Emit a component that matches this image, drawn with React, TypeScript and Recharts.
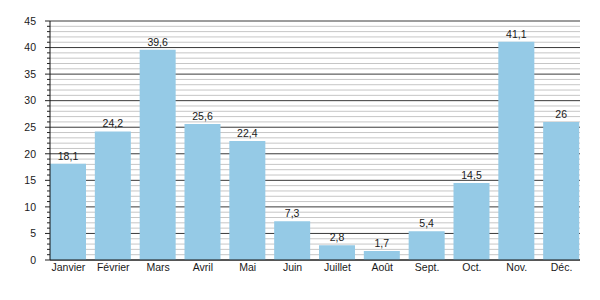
import React from 'react';
import { BarChart, Bar, XAxis, YAxis, CartesianGrid, LabelList } from 'recharts';

const months = ['Janvier', 'Février', 'Mars', 'Avril', 'Mai', 'Juin', 'Juillet', 'Août', 'Sept.', 'Oct.', 'Nov.', 'Déc.'];
const values = [18.1, 24.2, 39.6, 25.6, 22.4, 7.3, 2.8, 1.7, 5.4, 14.5, 41.1, 26];
const yTicks = [
  0, 1, 2, 3, 4, 5, 6, 7, 8, 9, 10, 11, 12, 13, 14, 15, 16, 17, 18, 19, 20, 21, 22,
  23, 24, 25, 26, 27, 28, 29, 30, 31, 32, 33, 34, 35, 36, 37, 38, 39, 40, 41, 42, 43, 44, 45,
];
const yMax = 45;

const data = months.map((m, i) => ({ month: m, value: values[i] }));

const FONT = '"Liberation Sans", Arial, sans-serif';
const TEXT = '#1a1a1a';

const YTick = (props: any) => {
  const { x, y, payload } = props;
  const major = payload.value % 5 === 0;
  return (
    <g>
      <line x1={x - (major ? 5 : 3)} x2={x} y1={y} y2={y} stroke="#222" strokeWidth={1} />
      {major && (
        <text x={x - 14} y={y} dy="0.355em" textAnchor="end" fontSize={10.5} fontFamily={FONT} fill={TEXT}>
          {payload.value}
        </text>
      )}
    </g>
  );
};

const gridLine = (p: any) => (
  <line
    key={`gl-${p.index}`}
    x1={p.x1}
    x2={p.x2}
    y1={p.y1}
    y2={p.y2}
    stroke={p.index % 5 === 0 ? '#3a3a3a' : '#c6c6c6'}
    strokeWidth={1}
  />
);

export default function App() {
  return (
    <div style={{ position: 'absolute', left: 0, top: 0, width: 600, height: 300, background: '#fff' }}>
      <BarChart width={600} height={300} data={data} margin={{ top: 21, right: 20, left: 0, bottom: 0 }}>
        <CartesianGrid vertical={false} horizontal={gridLine} />
        <XAxis
          dataKey="month"
          height={40}
          padding={{ left: -4, right: -4 }}
          tickLine={false}
          tickSize={0}
          tickMargin={4}
          interval={0}
          axisLine={{ stroke: '#111' }}
          tick={{ fontSize: 10.5, fontFamily: FONT, fill: TEXT }}
        />
        <YAxis
          width={50}
          domain={[0, yMax]}
          ticks={yTicks}
          interval={0}
          tickLine={false}
          tickSize={0}
          tickMargin={0}
          axisLine={{ stroke: '#111' }}
          tick={<YTick />}
        />
        <Bar dataKey="value" fill="#95cae6" barSize={36} isAnimationActive={false}>
          <LabelList
            dataKey="value"
            position="top"
            offset={4}
            formatter={(v: any) => String(v).replace('.', ',')}
            style={{ fontSize: 10.5, fontFamily: FONT, fill: TEXT }}
          />
        </Bar>
      </BarChart>
    </div>
  );
}
